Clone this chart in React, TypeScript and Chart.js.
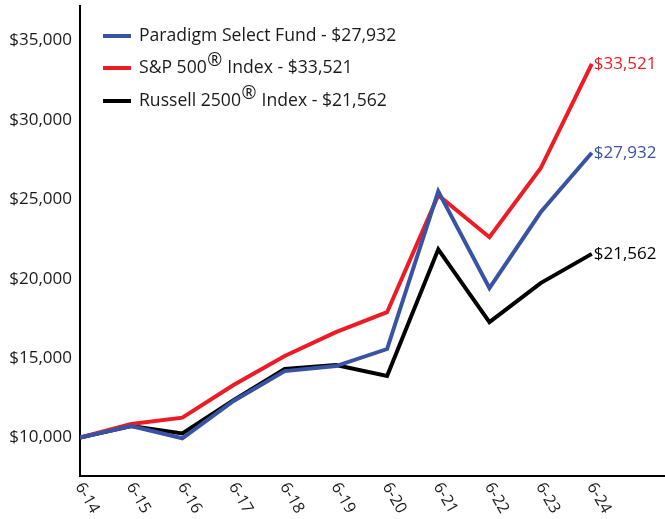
import React, { useEffect, useRef } from 'react';
import { Chart, registerables } from 'chart.js';

Chart.register(...registerables);

const categories = ['6-14', '6-15', '6-16', '6-17', '6-18', '6-19', '6-20', '6-21', '6-22', '6-23', '6-24'];
const fundValues = [10000, 10720, 9950, 12300, 14180, 14500, 15570, 25500, 19400, 24180, 27932];
const sp500Values = [10000, 10850, 11250, 13300, 15130, 16630, 17890, 25250, 22610, 26950, 33521];
const russellValues = [10000, 10720, 10250, 12350, 14310, 14560, 13870, 21850, 17260, 19720, 21562];
const yTickValues = [10000, 15000, 20000, 25000, 30000, 35000];

const seriesNames = ['Paradigm Select Fund', 'S&P 500', 'Russell 2500'];
const seriesRegistered = [false, true, true];
const seriesColors = ['#3953a4', '#ed1c24', '#000000'];

const FONT = '"Open Sans", sans-serif';
const money = (v: number) => '$' + Math.round(v).toLocaleString('en-US');

const overlayPlugin = {
  id: 'overlay',
  afterDraw(chart: any) {
    const ctx = chart.ctx as CanvasRenderingContext2D;
    const xs = chart.scales.x;
    const area = chart.chartArea;
    ctx.save();

    // rotated x labels
    ctx.font = `16px ${FONT}`;
    ctx.fillStyle = '#1a1a1a';
    ctx.textAlign = 'left';
    ctx.textBaseline = 'middle';
    categories.forEach((c, i) => {
      const px = xs.getPixelForValue(i);
      ctx.save();
      ctx.translate(px - 1, area.bottom + 8);
      ctx.rotate(Math.PI / 3);
      ctx.fillText(c, 0, 0);
      ctx.restore();
    });

    // end labels
    ctx.font = `17px ${FONT}`;
    chart.data.datasets.forEach((ds: any, i: number) => {
      const meta = chart.getDatasetMeta(i);
      const pt = meta.data[meta.data.length - 1];
      const v = ds.data[ds.data.length - 1].y;
      ctx.fillStyle = seriesColors[i];
      ctx.fillText(money(v), pt.x + 2, pt.y);
    });

    // legend
    const rowY = [36, 68, 101];
    const lastVals = [fundValues, sp500Values, russellValues].map((a) => a[a.length - 1]);
    const lf = `17.6px ${FONT}`;
    seriesNames.forEach((name, i) => {
      const y = rowY[i];
      ctx.strokeStyle = seriesColors[i];
      ctx.lineWidth = 4;
      ctx.beginPath();
      ctx.moveTo(103, y);
      ctx.lineTo(131, y);
      ctx.stroke();
      ctx.fillStyle = '#1a1a1a';
      ctx.font = lf;
      let x = 139;
      if (seriesRegistered[i]) {
        ctx.fillText(name, x, y);
        x += ctx.measureText(name).width + 0.5;
        ctx.font = `18px ${FONT}`;
        ctx.fillText('\u00AE', x, y - 7);
        x += ctx.measureText('\u00AE').width + 0.5;
        ctx.font = lf;
        ctx.fillText(' Index - ' + money(lastVals[i]), x, y);
      } else {
        ctx.fillText(name + ' - ' + money(lastVals[i]), x, y);
      }
    });

    ctx.restore();
  },
};

export default function App() {
  const canvasRef = useRef<HTMLCanvasElement | null>(null);

  useEffect(() => {
    if (!canvasRef.current) return;
    const toXY = (arr: number[]) => arr.map((v, i) => ({ x: i, y: v }));
    const chart = new Chart(canvasRef.current, {
      type: 'line',
      data: {
        datasets: [
          { label: seriesNames[0], data: toXY(fundValues), borderColor: seriesColors[0], borderWidth: 4, pointRadius: 0, tension: 0, fill: false },
          { label: seriesNames[1], data: toXY(sp500Values), borderColor: seriesColors[1], borderWidth: 4, pointRadius: 0, tension: 0, fill: false },
          { label: seriesNames[2], data: toXY(russellValues), borderColor: seriesColors[2], borderWidth: 4, pointRadius: 0, tension: 0, fill: false },
        ],
      },
      options: {
        responsive: false,
        animation: false,
        layout: { padding: { top: 6, right: 0, bottom: 0, left: 0 } },
        plugins: { legend: { display: false }, tooltip: { enabled: false } },
        scales: {
          x: {
            type: 'linear',
            min: 0,
            max: 11.43,
            grid: { display: false, drawTicks: false },
            border: { display: true, color: '#000', width: 2 },
            ticks: { display: false },
            afterFit: (s: any) => { s.height = 43; s.paddingLeft = 0; s.paddingRight = 0; },
          },
          y: {
            type: 'linear',
            min: 7575,
            max: 37170,
            grid: { display: false, drawTicks: false },
            border: { display: true, color: '#000', width: 2 },
            afterBuildTicks: (s: any) => { s.ticks = yTickValues.map((v) => ({ value: v })); },
            afterFit: (s: any) => { s.width = 80; s.paddingTop = 0; s.paddingBottom = 0; },
            ticks: {
              padding: 8,
              color: '#1a1a1a',
              font: { family: FONT, size: 17 },
              callback: (v: any) => money(Number(v)),
            },
          },
        },
      },
      plugins: [overlayPlugin],
    });
    return () => chart.destroy();
  }, []);

  return (
    <div style={{ position: 'absolute', left: 0, top: 0, width: 665, height: 519, background: '#fff' }}>
      <canvas ref={canvasRef} width={665} height={519} style={{ width: 665, height: 519, display: 'block' }} />
    </div>
  );
}
